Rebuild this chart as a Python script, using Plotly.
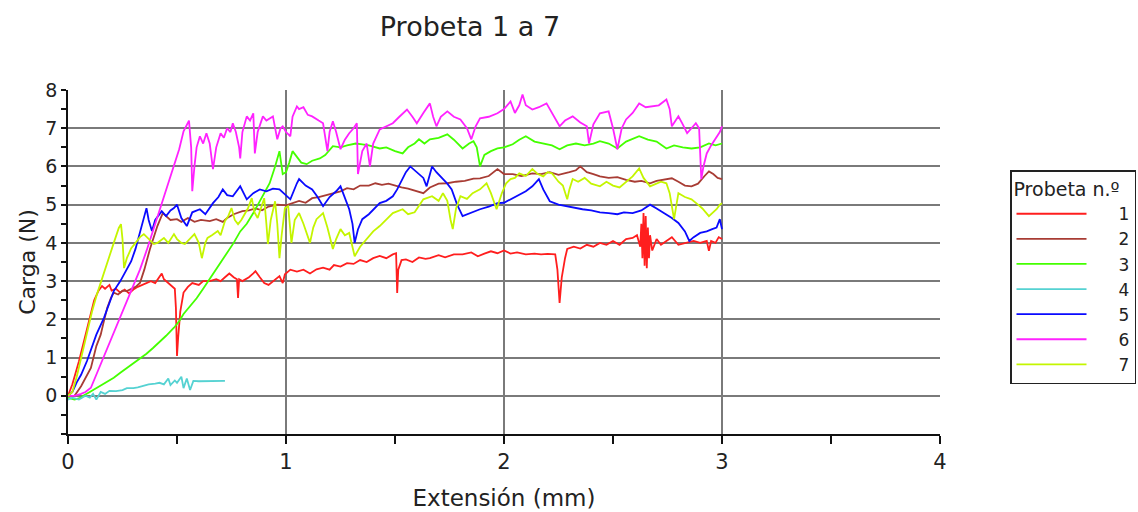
import plotly.graph_objects as go

# ---- data (Extensión mm, Carga N) ----
s1 = [(0,0),(0.02,0.3),(0.05,0.9),(0.08,1.6),(0.1,2.1),(0.12,2.5),(0.14,2.75),(0.156,2.87),(0.17,2.8),(0.19,2.9),(0.2,2.75),(0.22,2.8),(0.24,2.7),(0.26,2.78),(0.28,2.68),(0.3,2.78),(0.32,2.85),(0.34,2.9),(0.36,2.95),(0.38,3.0),(0.4,2.95),(0.42,3.1),(0.43,3.2),(0.44,3.05),(0.46,2.95),(0.48,2.85),(0.49,2.8),(0.495,2.3),(0.5,1.04),(0.505,1.5),(0.515,2.2),(0.53,2.7),(0.55,2.85),(0.57,2.95),(0.6,2.9),(0.62,3.0),(0.65,3.0),(0.68,3.05),(0.7,3.0),(0.72,3.1),(0.74,3.2),(0.76,3.1),(0.775,3.05),(0.78,2.56),(0.785,3.05),(0.8,3.0),(0.83,3.1),(0.85,3.2),(0.86,3.26),(0.88,3.1),(0.9,2.95),(0.92,2.9),(0.94,3.0),(0.96,3.1),(0.97,3.13),(0.985,2.95),(0.995,3.18),(1.02,3.3),(1.05,3.25),(1.08,3.3),(1.11,3.2),(1.14,3.31),(1.17,3.35),(1.2,3.3),(1.22,3.42),(1.25,3.38),(1.28,3.47),(1.31,3.45),(1.34,3.55),(1.37,3.5),(1.4,3.6),(1.43,3.66),(1.46,3.6),(1.49,3.7),(1.505,3.73),(1.51,2.69),(1.515,3.3),(1.53,3.55),(1.55,3.57),(1.58,3.5),(1.61,3.62),(1.64,3.58),(1.66,3.6),(1.7,3.68),(1.73,3.62),(1.77,3.7),(1.81,3.7),(1.85,3.75),(1.88,3.65),(1.91,3.72),(1.94,3.78),(1.97,3.73),(2.0,3.8),(2.03,3.72),(2.06,3.75),(2.1,3.7),(2.14,3.72),(2.17,3.7),(2.2,3.71),(2.235,3.7),(2.245,3.3),(2.255,2.43),(2.265,3.1),(2.28,3.6),(2.29,3.84),(2.32,3.9),(2.35,3.85),(2.38,3.95),(2.41,3.9),(2.44,4.0),(2.47,3.95),(2.5,4.05),(2.53,3.95),(2.56,4.1),(2.59,4.13),(2.61,4.2),(2.625,3.9),(2.63,4.5),(2.635,3.6),(2.64,4.78),(2.645,3.4),(2.65,4.7),(2.655,3.34),(2.66,4.4),(2.665,3.6),(2.67,4.2),(2.68,3.8),(2.7,4.1),(2.72,3.95),(2.745,4.05),(2.77,4.15),(2.8,3.95),(2.84,4.0),(2.87,4.05),(2.9,4.0),(2.93,4.05),(2.94,3.79),(2.95,4.05),(2.97,4.0),(2.985,4.15),(3.0,4.1)]

s2 = [(0,0),(0.03,0.0),(0.06,0.25),(0.09,0.55),(0.105,0.73),(0.13,1.3),(0.15,1.6),(0.165,1.96),(0.18,2.3),(0.197,2.56),(0.21,2.7),(0.23,2.65),(0.25,2.75),(0.27,2.74),(0.29,2.8),(0.31,2.85),(0.33,2.95),(0.35,3.3),(0.376,3.84),(0.39,4.1),(0.41,4.44),(0.425,4.65),(0.435,4.78),(0.45,4.7),(0.47,4.6),(0.5,4.62),(0.52,4.55),(0.55,4.65),(0.58,4.55),(0.61,4.6),(0.65,4.57),(0.68,4.62),(0.71,4.55),(0.73,4.65),(0.76,4.75),(0.8,4.83),(0.83,4.85),(0.86,4.9),(0.89,4.85),(0.92,4.95),(0.96,5.0),(1.0,4.98),(1.03,5.04),(1.06,5.1),(1.09,5.05),(1.12,5.17),(1.15,5.2),(1.18,5.25),(1.21,5.3),(1.25,5.35),(1.28,5.43),(1.31,5.4),(1.34,5.5),(1.38,5.5),(1.41,5.56),(1.44,5.52),(1.47,5.55),(1.5,5.5),(1.53,5.45),(1.56,5.42),(1.6,5.35),(1.63,5.3),(1.66,5.45),(1.7,5.55),(1.74,5.56),(1.78,5.6),(1.82,5.62),(1.86,5.68),(1.89,5.69),(1.93,5.75),(1.97,5.93),(2.0,5.8),(2.04,5.8),(2.08,5.75),(2.13,5.82),(2.17,5.8),(2.21,5.85),(2.25,5.78),(2.3,5.85),(2.33,5.9),(2.35,6.0),(2.38,5.85),(2.41,5.8),(2.44,5.74),(2.48,5.7),(2.52,5.72),(2.56,5.65),(2.6,5.6),(2.63,5.62),(2.67,5.56),(2.7,5.62),(2.74,5.65),(2.77,5.69),(2.8,5.6),(2.83,5.5),(2.86,5.48),(2.89,5.55),(2.92,5.75),(2.94,5.87),(2.96,5.8),(2.98,5.7),(3.0,5.67)]

s3 = [(0,-0.05),(0.03,-0.1),(0.06,-0.05),(0.07,0.0),(0.1,0.1),(0.13,0.2),(0.16,0.3),(0.19,0.4),(0.21,0.47),(0.24,0.6),(0.27,0.72),(0.3,0.85),(0.33,0.97),(0.36,1.1),(0.39,1.25),(0.42,1.4),(0.45,1.57),(0.486,1.78),(0.51,1.95),(0.53,2.14),(0.56,2.35),(0.59,2.55),(0.62,2.8),(0.65,3.05),(0.68,3.3),(0.71,3.55),(0.74,3.8),(0.76,4.0),(0.79,4.3),(0.82,4.5),(0.85,4.78),(0.88,5.1),(0.9,5.3),(0.925,5.56),(0.95,6.0),(0.97,6.4),(0.985,5.8),(1.0,5.85),(1.015,6.1),(1.03,6.4),(1.05,6.25),(1.07,6.1),(1.095,6.06),(1.12,6.15),(1.155,6.21),(1.18,6.3),(1.215,6.53),(1.25,6.5),(1.28,6.55),(1.32,6.6),(1.35,6.58),(1.38,6.55),(1.43,6.47),(1.46,6.5),(1.5,6.4),(1.535,6.34),(1.56,6.5),(1.59,6.6),(1.61,6.71),(1.635,6.6),(1.66,6.71),(1.7,6.75),(1.74,6.84),(1.77,6.7),(1.81,6.47),(1.84,6.6),(1.86,6.66),(1.875,6.5),(1.89,6.0),(1.91,6.3),(1.94,6.4),(1.97,6.47),(2.0,6.5),(2.04,6.58),(2.07,6.7),(2.1,6.79),(2.14,6.65),(2.18,6.6),(2.22,6.55),(2.255,6.45),(2.29,6.55),(2.33,6.6),(2.37,6.55),(2.41,6.6),(2.44,6.66),(2.48,6.6),(2.52,6.47),(2.56,6.65),(2.6,6.75),(2.62,6.79),(2.66,6.7),(2.7,6.65),(2.745,6.47),(2.78,6.55),(2.82,6.5),(2.86,6.47),(2.9,6.5),(2.94,6.6),(2.97,6.55),(3.0,6.6)]

s4 = [(0,-0.1),(0.02,-0.05),(0.05,-0.1),(0.08,0.0),(0.1,-0.05),(0.115,0.05),(0.13,-0.1),(0.15,0.1),(0.17,0.05),(0.19,0.13),(0.22,0.12),(0.25,0.15),(0.27,0.2),(0.3,0.2),(0.32,0.22),(0.345,0.26),(0.37,0.3),(0.4,0.32),(0.42,0.34),(0.44,0.3),(0.46,0.45),(0.47,0.28),(0.49,0.4),(0.5,0.34),(0.52,0.5),(0.53,0.2),(0.545,0.45),(0.56,0.15),(0.575,0.39),(0.6,0.38),(0.65,0.39),(0.72,0.39)]

s5 = [(0,0),(0.02,0.1),(0.04,0.35),(0.06,0.55),(0.087,0.91),(0.11,1.3),(0.13,1.6),(0.165,2.04),(0.19,2.4),(0.21,2.74),(0.24,3.0),(0.27,3.3),(0.29,3.52),(0.31,3.85),(0.33,4.25),(0.35,4.7),(0.36,4.91),(0.37,4.6),(0.385,4.31),(0.4,4.6),(0.43,4.83),(0.45,4.7),(0.47,4.85),(0.486,4.91),(0.5,5.0),(0.52,4.65),(0.545,4.44),(0.57,4.8),(0.605,4.88),(0.63,4.75),(0.665,5.04),(0.69,5.2),(0.71,5.4),(0.73,5.25),(0.756,5.22),(0.79,5.48),(0.805,5.3),(0.82,5.14),(0.85,5.3),(0.88,5.4),(0.91,5.35),(0.94,5.42),(0.97,5.4),(0.99,5.3),(1.02,5.14),(1.05,5.56),(1.06,5.67),(1.09,5.5),(1.12,5.4),(1.145,5.2),(1.17,4.96),(1.2,5.2),(1.23,5.35),(1.25,5.48),(1.27,5.2),(1.29,4.88),(1.305,4.5),(1.315,4.0),(1.33,4.35),(1.35,4.62),(1.38,4.75),(1.43,5.04),(1.46,5.1),(1.49,5.22),(1.51,5.4),(1.535,5.67),(1.55,5.85),(1.57,6.0),(1.59,5.9),(1.61,5.82),(1.63,5.7),(1.645,5.48),(1.67,6.0),(1.69,5.85),(1.72,5.67),(1.74,5.55),(1.76,5.4),(1.785,5.0),(1.81,4.7),(1.85,4.8),(1.89,4.88),(1.93,4.95),(1.97,5.04),(2.0,5.05),(2.04,5.17),(2.06,5.22),(2.1,5.35),(2.13,5.48),(2.16,5.67),(2.18,5.4),(2.21,5.09),(2.25,5.0),(2.29,4.96),(2.33,4.9),(2.36,4.88),(2.4,4.85),(2.44,4.8),(2.48,4.78),(2.52,4.75),(2.55,4.8),(2.59,4.78),(2.63,4.85),(2.67,5.0),(2.7,4.9),(2.745,4.75),(2.77,4.65),(2.8,4.52),(2.83,4.3),(2.85,4.05),(2.87,4.15),(2.9,4.26),(2.93,4.3),(2.955,4.36),(2.975,4.4),(2.99,4.62),(3.0,4.36)]

s6 = [(0,0),(0.03,0.0),(0.06,0.05),(0.08,0.1),(0.105,0.21),(0.13,0.55),(0.16,0.95),(0.19,1.35),(0.21,1.62),(0.25,2.2),(0.29,2.75),(0.33,3.3),(0.36,3.79),(0.4,4.5),(0.43,5.0),(0.46,5.55),(0.49,6.1),(0.51,6.45),(0.53,6.92),(0.545,7.1),(0.555,7.2),(0.565,6.5),(0.57,5.35),(0.58,6.0),(0.59,6.5),(0.605,6.79),(0.62,6.6),(0.635,6.87),(0.65,6.6),(0.665,5.93),(0.68,6.5),(0.7,6.87),(0.715,6.75),(0.73,7.0),(0.745,6.9),(0.756,7.13),(0.77,6.9),(0.785,6.5),(0.79,6.21),(0.8,6.9),(0.82,7.31),(0.835,7.2),(0.85,7.39),(0.857,6.34),(0.87,6.9),(0.894,7.31),(0.91,7.2),(0.94,7.31),(0.955,6.9),(0.96,6.71),(0.975,7.0),(0.985,7.05),(1.0,6.9),(1.02,6.79),(1.03,7.3),(1.05,7.57),(1.06,7.5),(1.08,7.55),(1.1,7.35),(1.12,7.31),(1.15,7.2),(1.17,7.13),(1.19,6.4),(1.2,6.9),(1.215,7.18),(1.23,6.9),(1.25,6.45),(1.27,6.7),(1.29,6.87),(1.31,7.0),(1.325,7.13),(1.33,5.8),(1.35,6.4),(1.37,6.6),(1.385,6.0),(1.4,6.6),(1.43,6.97),(1.46,7.05),(1.49,7.13),(1.52,7.3),(1.555,7.49),(1.58,7.3),(1.6,7.13),(1.63,7.4),(1.66,7.65),(1.675,7.3),(1.69,7.05),(1.71,7.3),(1.74,7.44),(1.77,7.3),(1.8,7.23),(1.83,7.0),(1.85,6.71),(1.87,7.05),(1.89,7.26),(1.93,7.3),(1.97,7.39),(2.0,7.5),(2.03,7.7),(2.05,7.4),(2.07,7.6),(2.085,7.88),(2.1,7.6),(2.13,7.49),(2.16,7.55),(2.195,7.65),(2.22,7.4),(2.255,7.05),(2.28,7.2),(2.315,7.31),(2.35,7.15),(2.38,7.05),(2.39,6.6),(2.41,7.1),(2.44,7.39),(2.48,7.44),(2.5,7.0),(2.51,6.71),(2.52,6.45),(2.54,7.0),(2.56,7.23),(2.59,7.4),(2.62,7.65),(2.65,7.55),(2.68,7.57),(2.71,7.6),(2.745,7.75),(2.76,7.5),(2.77,7.05),(2.8,7.31),(2.82,7.1),(2.84,6.87),(2.86,7.0),(2.88,7.13),(2.895,7.0),(2.9,6.5),(2.905,5.67),(2.915,6.0),(2.93,6.34),(2.95,6.55),(2.975,6.79),(2.99,6.9),(3.0,7.05)]

s7 = [(0,0),(0.02,0.1),(0.04,0.5),(0.06,1.0),(0.087,1.62),(0.11,2.2),(0.133,2.66),(0.16,3.15),(0.18,3.52),(0.21,4.0),(0.233,4.39),(0.243,4.49),(0.25,4.1),(0.257,3.34),(0.27,3.6),(0.29,3.86),(0.31,4.0),(0.33,4.15),(0.348,4.23),(0.37,4.1),(0.394,3.97),(0.41,4.0),(0.44,4.13),(0.46,4.0),(0.486,4.23),(0.5,4.1),(0.52,4.0),(0.536,3.97),(0.56,4.1),(0.58,4.23),(0.6,4.0),(0.614,3.6),(0.63,4.0),(0.64,4.13),(0.66,4.2),(0.687,4.31),(0.7,4.2),(0.72,4.57),(0.735,4.7),(0.75,4.91),(0.765,4.6),(0.78,4.49),(0.795,4.6),(0.81,4.75),(0.825,4.9),(0.843,5.17),(0.855,4.8),(0.87,4.65),(0.885,4.9),(0.9,5.17),(0.91,4.5),(0.917,3.97),(0.93,4.6),(0.95,5.09),(0.96,4.5),(0.97,3.6),(0.98,4.2),(0.995,4.91),(1.01,4.96),(1.025,4.0),(1.04,4.6),(1.06,4.78),(1.08,4.5),(1.11,4.0),(1.125,4.4),(1.14,4.62),(1.17,4.78),(1.19,4.4),(1.215,3.84),(1.23,4.1),(1.25,4.36),(1.27,4.2),(1.29,4.26),(1.305,3.9),(1.315,3.65),(1.34,3.9),(1.37,4.1),(1.4,4.3),(1.43,4.44),(1.46,4.6),(1.49,4.78),(1.535,4.88),(1.56,4.75),(1.59,4.8),(1.63,5.14),(1.67,5.22),(1.7,5.1),(1.72,5.3),(1.74,5.1),(1.755,4.6),(1.765,4.36),(1.78,4.9),(1.8,5.22),(1.83,5.15),(1.856,5.3),(1.89,5.4),(1.92,5.56),(1.94,5.3),(1.966,4.88),(1.99,5.3),(2.01,5.56),(2.03,5.67),(2.05,5.7),(2.07,5.82),(2.1,5.75),(2.13,5.93),(2.155,5.8),(2.18,5.74),(2.2,5.85),(2.22,5.82),(2.25,5.6),(2.27,5.5),(2.29,5.14),(2.3,5.4),(2.315,5.67),(2.34,5.6),(2.37,5.7),(2.4,5.55),(2.44,5.48),(2.47,5.6),(2.5,5.5),(2.53,5.45),(2.56,5.6),(2.59,5.74),(2.62,5.95),(2.64,5.7),(2.67,5.48),(2.7,5.55),(2.72,5.6),(2.745,5.56),(2.76,5.3),(2.78,4.62),(2.79,5.0),(2.8,5.3),(2.83,5.2),(2.86,5.14),(2.89,5.0),(2.91,4.9),(2.94,4.7),(2.96,4.8),(2.975,4.88),(2.99,5.0),(3.0,5.04)]

series_names = ["1", "2", "3", "4", "5", "6", "7"]
series_data = [s1, s2, s3, s4, s5, s6, s7]
series_colors = ["#ff1e1e", "#a83c34", "#44ff00", "#55d2d2", "#0a0aff", "#ff22ff", "#c4f500"]

x_ticks = [0, 1, 2, 3, 4]
y_ticks = [0, 1, 2, 3, 4, 5, 6, 7, 8]

FONT = "DejaVu Sans, Verdana, sans-serif"
TXT = "#222"

fig = go.Figure()
for name, pts, col in zip(series_names, series_data, series_colors):
    fig.add_trace(go.Scatter(
        x=[p[0] for p in pts], y=[p[1] for p in pts],
        mode="lines", name="     " + name,
        line=dict(color=col, width=1.8),
    ))

# plot area: x 68..940 px, y 90..434 px
fig.update_layout(
    width=1138, height=512,
    margin=dict(l=68, r=198, t=90, b=78, autoexpand=False),
    paper_bgcolor="white", plot_bgcolor="white",
    font=dict(family=FONT, color=TXT, size=16),
    title=dict(text="Probeta 1 a 7", x=470/1138, xanchor="center",
               y=1 - 27/512, yanchor="middle",
               font=dict(family=FONT, size=27, color=TXT)),
    showlegend=True,
    legend=dict(
        title=dict(text="Probeta n.º", font=dict(family=FONT, size=19, color=TXT)),
        x=(1010 - 68) / 872, xanchor="left", y=(434 - 170) / 344, yanchor="top",
        bordercolor="#222", borderwidth=1.5, bgcolor="white",
        font=dict(family=FONT, size=17, color=TXT),
        tracegroupgap=0, itemwidth=70,
    ),
    xaxis=dict(
        range=[0, 4], tickvals=x_ticks, ticktext=[str(v) for v in x_ticks],
        showgrid=True, gridcolor="#7a7a7a", gridwidth=1.5,
        showline=True, linecolor="#111", linewidth=1.5,
        ticks="outside", ticklen=8, tickcolor="#111", tickwidth=1.5,
        minor=dict(dtick=0.5, tick0=0, ticks="outside", ticklen=8, tickcolor="#111", tickwidth=1.5, showgrid=False),
        zeroline=False,
        title=dict(text="Extensión (mm)", font=dict(family=FONT, size=23, color=TXT), standoff=17),
        tickfont=dict(family=FONT, size=21, color=TXT),
    ),
    yaxis=dict(
        range=[-1, 8], tickvals=y_ticks, ticktext=[str(v) for v in y_ticks],
        showgrid=True, gridcolor="#7a7a7a", gridwidth=1.5,
        showline=True, linecolor="#111", linewidth=1.5,
        ticks="outside", ticklen=5, tickcolor="#111", tickwidth=1.5,
        minor=dict(dtick=0.5, tick0=0, ticks="outside", ticklen=5, tickcolor="#111", tickwidth=1.5, showgrid=False),
        zeroline=False,
        title=dict(text="Carga (N)", font=dict(family=FONT, size=22, color=TXT), standoff=4),
        tickfont=dict(family=FONT, size=19, color=TXT),
    ),
)

fig.write_html("out.html")
